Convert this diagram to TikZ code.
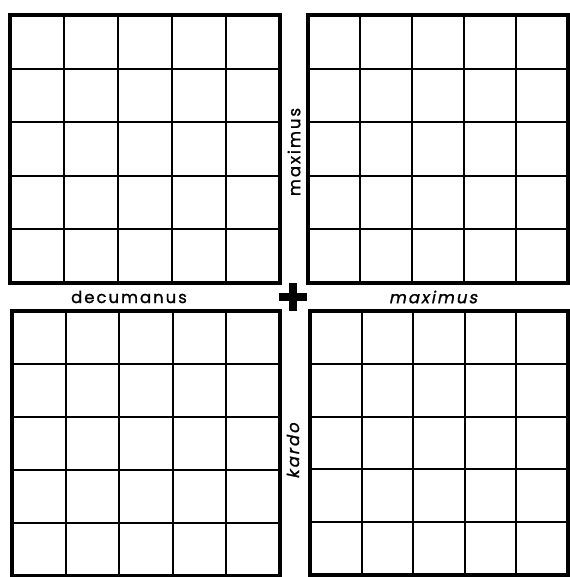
\documentclass[tikz,border=0pt]{standalone}
\usepackage{fontspec}
\newfontfamily\streetfont[LetterSpace=12,FakeBold=1.2]{Poppins}
\newfontfamily\streetslant[LetterSpace=12,FakeBold=1.2,FakeSlant=0.2]{Poppins}
\usepackage{tikz}

\begin{document}
\begin{tikzpicture}[x=1pt, y=-1pt,
  street/.style={font=\streetfont\fontsize{16.5}{18}\selectfont, inner sep=0pt},
  streetsl/.style={font=\streetslant\fontsize{16.5}{18}\selectfont, inner sep=0pt},
  outer/.style={line width=3.4pt},
  inner/.style={line width=2pt}]
\useasboundingbox (0,0) rectangle (569,577);
% four blocks of 5x5 plots
\foreach \xa/\ya/\xb/\yb in {10/15/280/283, 308/15/568/283, 12/311/280/576, 310/311/568/575} {
  \foreach \i in {1,...,4} {
    \draw[inner] ({\xa+\i*(\xb-\xa)/5},\ya) -- ({\xa+\i*(\xb-\xa)/5},\yb);
    \draw[inner] (\xa,{\ya+\i*(\yb-\ya)/5}) -- (\xb,{\ya+\i*(\yb-\ya)/5});
  }
  \draw[outer] (\xa,\ya) rectangle (\xb,\yb);
}
% the cross at the crossing
\draw[line width=8pt] (279,297) -- (307,297) (293,283) -- (293,311);
% street names
\node[street] (decumanus) at (129,297) {decumanus};
\node[streetsl] (maxh) at (433,297) {maximus};
\node[street,rotate=90] (maxv) at (294,152) {maximus};
\node[streetsl,rotate=90] (kardo) at (293,451) {kardo};
\end{tikzpicture}
\end{document}
